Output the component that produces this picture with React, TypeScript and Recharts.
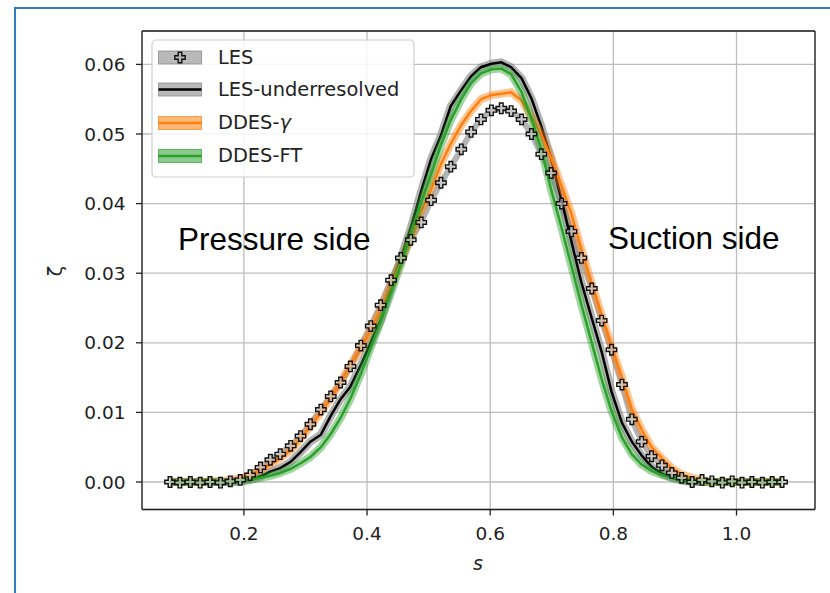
import { LineChart, Line, XAxis, YAxis, CartesianGrid, ReferenceLine } from 'recharts'

// arc-length coordinate s (shared sampling of all series)
const S = [
  0.080, 0.096, 0.113, 0.129, 0.145, 0.162, 0.178, 0.194, 0.210, 0.227,
  0.243, 0.259, 0.276, 0.292, 0.308, 0.325, 0.341, 0.357, 0.373, 0.390,
  0.406, 0.422, 0.439, 0.455, 0.471, 0.488, 0.504, 0.520, 0.536, 0.553,
  0.569, 0.585, 0.602, 0.618, 0.634, 0.651, 0.667, 0.683, 0.699, 0.716,
  0.732, 0.748, 0.765, 0.781, 0.797, 0.814, 0.830, 0.846, 0.862, 0.879,
  0.895, 0.911, 0.928, 0.944, 0.960, 0.977, 0.993, 1.009, 1.025, 1.042,
  1.058, 1.074,
]

const LES = [
  0.0000, -0.0001, 0.0000, -0.0001, 0.0000, -0.0001, 0.0001, 0.0003, 0.0010, 0.0021,
  0.0032, 0.0040, 0.0052, 0.0066, 0.0083, 0.0104, 0.0123, 0.0143, 0.0166, 0.0196,
  0.0224, 0.0254, 0.0290, 0.0322, 0.0348, 0.0373, 0.0405, 0.0430, 0.0453, 0.0478,
  0.0503, 0.0521, 0.0534, 0.0537, 0.0533, 0.0521, 0.0500, 0.0471, 0.0444, 0.0400,
  0.0360, 0.0322, 0.0278, 0.0232, 0.0190, 0.0140, 0.0090, 0.0058, 0.0037, 0.0024,
  0.0013, 0.0006, 0.0000, 0.0003, 0.0001, -0.0001, 0.0001, -0.0001, 0.0000, -0.0001,
  0.0000, 0.0000,
]

const LES_UNDER = [
  0.0000, 0.0000, 0.0000, 0.0000, 0.0000, 0.0000, 0.0000, 0.0001, 0.0003, 0.0008,
  0.0015, 0.0020, 0.0029, 0.0043, 0.0058, 0.0068, 0.0095, 0.0119, 0.0137, 0.0168,
  0.0200, 0.0232, 0.0278, 0.0322, 0.0365, 0.0418, 0.0464, 0.0498, 0.0540, 0.0563,
  0.0583, 0.0596, 0.0601, 0.0603, 0.0596, 0.0580, 0.0551, 0.0511, 0.0465, 0.0405,
  0.0345, 0.0287, 0.0235, 0.0187, 0.0130, 0.0085, 0.0058, 0.0038, 0.0022, 0.0012,
  0.0006, 0.0002, 0.0000, 0.0000, 0.0000, 0.0000, 0.0000, 0.0000, 0.0000, 0.0000,
  0.0000, 0.0000,
]

const DDES_GAMMA = [
  0.0000, 0.0000, 0.0000, 0.0000, 0.0001, 0.0001, 0.0003, 0.0005, 0.0010, 0.0017,
  0.0025, 0.0034, 0.0046, 0.0062, 0.0080, 0.0100, 0.0121, 0.0143, 0.0168, 0.0193,
  0.0218, 0.0248, 0.0283, 0.0316, 0.0350, 0.0389, 0.0420, 0.0457, 0.0486, 0.0513,
  0.0533, 0.0550, 0.0556, 0.0558, 0.0560, 0.0548, 0.0525, 0.0499, 0.0466, 0.0425,
  0.0385, 0.0335, 0.0285, 0.0240, 0.0195, 0.0150, 0.0105, 0.0075, 0.0050, 0.0034,
  0.0020, 0.0011, 0.0006, 0.0002, 0.0000, 0.0000, 0.0000, 0.0000, 0.0000, 0.0000,
  0.0000, 0.0000,
]

const DDES_FT = [
  0.0000, 0.0000, 0.0000, 0.0000, 0.0000, 0.0000, 0.0000, 0.0001, 0.0003, 0.0006,
  0.0009, 0.0013, 0.0019, 0.0027, 0.0036, 0.0050, 0.0069, 0.0092, 0.0120, 0.0155,
  0.0193, 0.0230, 0.0272, 0.0313, 0.0356, 0.0402, 0.0442, 0.0484, 0.0520, 0.0550,
  0.0573, 0.0587, 0.0593, 0.0594, 0.0586, 0.0560, 0.0522, 0.0478, 0.0420, 0.0365,
  0.0310, 0.0255, 0.0200, 0.0148, 0.0102, 0.0064, 0.0040, 0.0025, 0.0016, 0.0010,
  0.0006, 0.0003, 0.0001, 0.0000, 0.0000, 0.0000, 0.0000, 0.0000, 0.0000, 0.0000,
  0.0000, 0.0000,
]

const X_TICKS = [0.2, 0.4, 0.6, 0.8, 1.0]
const Y_TICKS = [0, 0.01, 0.02, 0.03, 0.04, 0.05, 0.06]
const X_DOMAIN: [number, number] = [0.0345, 1.1275]
const Y_DOMAIN: [number, number] = [-0.00395, 0.0648]

const ORANGE = '#ff7f0e'
const GREEN = '#2ca02c'
const TICK_FONT = { fill: '#222', fontSize: 18.5, fontFamily: 'DejaVu Sans' }

const data = S.map((s, i) => ({
  s,
  les: LES[i],
  under: LES_UNDER[i],
  gamma: DDES_GAMMA[i],
  ft: DDES_FT[i],
}))

const plusPath = (cx: number, cy: number, a = 5.2, b = 1.8) =>
  `M${cx - b},${cy - a}H${cx + b}V${cy - b}H${cx + a}V${cy + b}H${cx + b}V${cy + a}H${cx - b}V${cy + b}H${cx - a}V${cy - b}H${cx - b}Z`

const PlusDot = (props: any) => {
  const { cx, cy, index } = props
  if (cx == null || cy == null) return <g key={`p-${index}`} />
  return (
    <path
      key={`p-${index}`}
      d={plusPath(cx, cy)}
      fill="#d8d8d8"
      fillOpacity={0.6}
      stroke="#111"
      strokeWidth={1.4}
    />
  )
}

const LegendBox = () => {
  const rows = [
    { band: '#808080', line: null, marker: true, y: 63.5, label: <tspan>LES</tspan> },
    { band: '#808080', line: '#000', marker: false, y: 95.5, label: <tspan>LES-underresolved</tspan> },
    {
      band: ORANGE, line: ORANGE, marker: false, y: 129,
      label: <><tspan>DDES-</tspan><tspan fontStyle="italic">{'\u03b3'}</tspan></>,
    },
    { band: GREEN, line: GREEN, marker: false, y: 162, label: <tspan>DDES-FT</tspan> },
  ]
  return (
    <g>
      <rect x={152} y={40} width={262} height={137} rx={4} fill="#fff" fillOpacity={0.85} stroke="#cfcfcf" strokeWidth={1.2} />
      {rows.map((r, i) => {
        const cy = r.y - 6
        return (
          <g key={i}>
            <rect x={158.5} y={cy - 6.5} width={43} height={13} fill={r.band} fillOpacity={0.55} stroke={r.band} strokeOpacity={0.7} strokeWidth={1} />
            {r.line && <line x1={158.5} x2={201.5} y1={cy} y2={cy} stroke={r.line} strokeWidth={2.6} />}
            {r.marker && <path d={plusPath(180, cy)} fill="none" stroke="#111" strokeWidth={1.4} />}
            <text x={218} y={r.y} fontFamily="DejaVu Sans" fontSize={19.4} fill="#222">
              {r.label}
            </text>
          </g>
        )
      })}
    </g>
  )
}

export default function App() {
  return (
    <div style={{ position: 'absolute', left: 0, top: 0, width: 830, height: 593, background: '#fff', overflow: 'hidden' }}>
      <div
        style={{
          position: 'absolute', left: 14, top: 7, width: 840, height: 620,
          border: '2px solid #2f7dbf', boxSizing: 'border-box',
        }}
      />
      <div style={{ position: 'absolute', left: 0, top: 0 }}>
        <LineChart width={830} height={593} data={data} margin={{ top: 31, right: 15, left: 0, bottom: 43.5 }}>
          <CartesianGrid stroke="#bdbdbd" strokeWidth={1.3} />
          <XAxis
            dataKey="s"
            type="number"
            domain={X_DOMAIN}
            ticks={X_TICKS}
            allowDataOverflow
            height={40}
            tickSize={6}
            tickMargin={11}
            tickFormatter={(v: number) => v.toFixed(1)}
            tick={TICK_FONT}
            stroke="#222"
            strokeWidth={1.3}
          />
          <YAxis
            type="number"
            domain={Y_DOMAIN}
            ticks={Y_TICKS}
            allowDataOverflow
            width={142}
            tickSize={6}
            tickMargin={10.5}
            tickFormatter={(v: number) => v.toFixed(2)}
            tick={TICK_FONT}
            stroke="#222"
            strokeWidth={1.3}
          />
          <ReferenceLine y={Y_DOMAIN[1]} stroke="#222" strokeWidth={1.3} />
          <ReferenceLine x={X_DOMAIN[1]} stroke="#222" strokeWidth={1.3} />

          {/* LES: band + plus markers */}
          <Line dataKey="les" stroke="#808080" strokeOpacity={0.6} strokeWidth={6} dot={false} activeDot={false} isAnimationActive={false} />
          <Line dataKey="les" stroke="none" dot={PlusDot} activeDot={false} isAnimationActive={false} />

          {/* LES-underresolved */}
          <Line dataKey="under" stroke="#808080" strokeOpacity={0.6} strokeWidth={8} dot={false} activeDot={false} isAnimationActive={false} />
          <Line dataKey="under" stroke="#000" strokeWidth={2.5} dot={false} activeDot={false} isAnimationActive={false} />

          {/* DDES-gamma */}
          <Line dataKey="gamma" stroke={ORANGE} strokeOpacity={0.45} strokeWidth={8} dot={false} activeDot={false} isAnimationActive={false} />
          <Line dataKey="gamma" stroke={ORANGE} strokeWidth={2.5} dot={false} activeDot={false} isAnimationActive={false} />

          {/* DDES-FT */}
          <Line dataKey="ft" stroke={GREEN} strokeOpacity={0.45} strokeWidth={8} dot={false} activeDot={false} isAnimationActive={false} />
          <Line dataKey="ft" stroke={GREEN} strokeWidth={2.5} dot={false} activeDot={false} isAnimationActive={false} />
        </LineChart>
      </div>
      <svg width={830} height={593} style={{ position: 'absolute', left: 0, top: 0, pointerEvents: 'none' }}>
        <LegendBox />
        <text x={178} y={250} fontFamily="Liberation Sans, Arial" fontSize={31.5} fill="#000">Pressure side</text>
        <text x={608} y={249} fontFamily="Liberation Sans, Arial" fontSize={31.5} fill="#000">Suction side</text>
        <text x={478} y={570} textAnchor="middle" fontFamily="DejaVu Sans" fontStyle="italic" fontSize={19} fill="#222">s</text>
        <text transform="translate(62,271) rotate(-90)" textAnchor="middle" fontFamily="DejaVu Sans" fontSize={19} fill="#222">{'\u03b6'}</text>
      </svg>
    </div>
  )
}
